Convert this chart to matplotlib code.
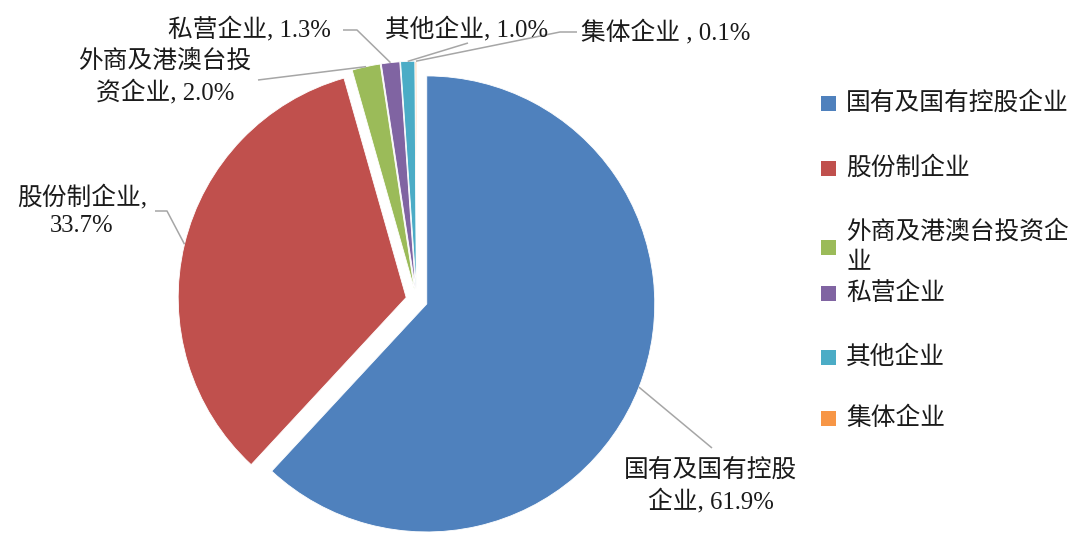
import numpy as np
import matplotlib
matplotlib.use("Agg")
import matplotlib.pyplot as plt
import matplotlib.patches as patches

# data
categories = ["国有及国有控股企业", "股份制企业", "外商及港澳台投资企业",
              "私营企业", "其他企业", "集体企业"]
shares = [61.9, 33.7, 2.0, 1.3, 1.0, 0.1]
colors = ["#4F81BD", "#C0504D", "#9BBB59", "#8064A2", "#4BACC6", "#F79646"]
label_texts = ["国有及国有控股\n企业, 61.9%", "股份制企业,\n33.7%",
               "外商及港澳台投\n资企业, 2.0%", "私营企业, 1.3%",
               "其他企业, 1.0%", "集体企业 , 0.1%"]
legend_texts = ["国有及国有控股企业", "股份制企业", "外商及港澳台投资企\n业",
                "私营企业", "其他企业", "集体企业"]

W, H = 1080, 551
FONT = ["Liberation Serif", "Noto Sans CJK SC"]
FS = 17.8
LINE = "#A6A6A6"


def py(y):
    # pixel row (from top) -> data y
    return H - y


fig = plt.figure(figsize=(W / 100, H / 100), dpi=100)
ax = fig.add_axes([0, 0, 1, 1])

R = 228
center = (416.7, py(300))
wedges, _ = ax.pie(shares, colors=colors, startangle=90, counterclock=False,
                   radius=R, center=center, explode=[10.8] * len(shares),
                   wedgeprops=dict(edgecolor="white", linewidth=0.6))
ax.set_xlim(0, W)
ax.set_ylim(0, H)
ax.set_aspect("auto")
ax.axis("off")

# label anchor positions (px) and leader paths ending on the wedge rim
label_pos = [(711, 486), (82, 211), (165, 77), (249, 29), (467, 29), (666, 32)]
leader_pts = [
    [(712, 448)],
    [(155, 211), (167, 211)],
    [(258, 80)],
    [(343, 30), (357, 30)],
    [(468, 43)],
    [(577, 32), (560, 32)],
]

for w, txt, pos, pts in zip(wedges, label_texts, label_pos, leader_pts):
    tm = np.deg2rad((w.theta1 + w.theta2) / 2)
    ex = w.center[0] + w.r * np.cos(tm)
    ey = w.center[1] + w.r * np.sin(tm)
    xs = [p[0] for p in pts] + [ex]
    ys = [py(p[1]) for p in pts] + [ey]
    ax.plot(xs, ys, color=LINE, lw=1.1, solid_capstyle="butt")
    ax.text(pos[0], py(pos[1]), txt, ha="center", va="center",
            family=FONT, fontsize=FS, linespacing=1.35, color="#1a1a1a")

# legend
leg_y = [103, 168, 247, 293, 357, 418]
for c, txt, y in zip(colors, legend_texts, leg_y):
    ax.add_patch(patches.Rectangle((820.5, py(y) - 7.5), 15, 15, facecolor=c,
                                   edgecolor="none"))
    ax.text(846, py(y), txt, ha="left", va="center", family=FONT,
            fontsize=FS, linespacing=1.45, color="#1a1a1a")

fig.savefig("out.png", dpi=100)
